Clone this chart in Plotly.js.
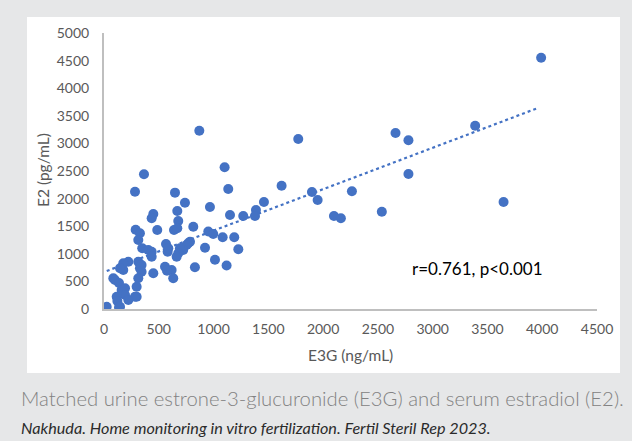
<!DOCTYPE html>
<html>
<head>
<meta charset="utf-8">
<script src="https://cdn.plot.ly/plotly-3.0.1.min.js"></script>
<style>html,body{margin:0;padding:0;background:#e6e7e8;}#chart{width:632px;height:441px;}</style>
</head>
<body>
<div id="chart"></div>
<script>
// E3G (ng/mL) and E2 (pg/mL)
const e3g = [3990,3388,2661,2779,1773,2779,1621,1898,1950,2263,1460,1387,1378,2099,2162,2536,3647,
  870,1101,1134,365,283,648,739,967,1150,1271,815,952,997,1083,1189,1226,922,1013,1119,830,
  450,435,669,678,289,328,486,639,669,313,
  785,769,754,723,693,678,663,349,404,435,435,566,581,587,
  450,557,617,632,575,
  313,328,343,343,313,298,298,283,
  176,222,176,146,85,100,137,161,192,192,222,116,122,24,137,146];
const e2 = [4553,3321,3188,3056,3080,2446,2234,2120,1975,2132,1938,1793,1685,1685,1643,1763,1938,
  3230,2567,2174,2440,2125,2108,1926,1848,1703,1685,1491,1405,1359,1299,1299,1082,1111,893,788,755,
  1721,1643,1775,1594,1437,1371,1431,1431,1462,1250,
  1219,1190,1159,1069,1100,1009,947,1100,1069,1038,947,1178,1038,1100,
  647,766,707,556,694,
  857,737,797,676,556,404,223,223,
  707,857,828,737,556,525,471,344,375,254,163,223,145,42,31,42];
// dotted linear trendline end points
const trendX = [25, 3954];
const trendY = [688, 3636];
const xTicks = [0,500,1000,1500,2000,2500,3000,3500,4000,4500];
const yTicks = [0,500,1000,1500,2000,2500,3000,3500,4000,4500,5000];
const statText = "r=0.761, p<0.001";
const xTitle = "E3G (ng/mL)";
const yTitle = "E2 (pg/mL)";
const caption = "Matched urine estrone-3-glucuronide (E3G) and serum estradiol (E2).";
const source = "Nakhuda. Home monitoring in vitro fertilization. Fertil Steril Rep 2023.";

const L = 104, R = 597, T = 33, B = 309;
const W = R - L, H = B - T;
const px = v => (v - L) / W;
const py = v => (B - v) / H;
const blue = '#4472c4';
const tickFont = {family: 'Lato, "Open Sans", sans-serif', size: 14, color: '#595959'};

const traces = [
  {x: trendX, y: trendY, mode: 'lines', type: 'scatter',
   line: {color: blue, width: 2.2, dash: 'dot'}, hoverinfo: 'skip'},
  {x: e3g, y: e2, mode: 'markers', type: 'scatter',
   marker: {color: blue, size: 10, line: {width: 0}}}
];

const layout = {
  width: 632, height: 441,
  paper_bgcolor: '#e6e7e8', plot_bgcolor: 'rgba(0,0,0,0)',
  showlegend: false,
  margin: {l: L, r: 632 - R, t: T, b: 441 - B, pad: 0},
  xaxis: {range: [0, 4500], tickvals: xTicks, ticktext: xTicks.map(String),
    showgrid: false, zeroline: false, showline: true, linecolor: '#bfbfbf', linewidth: 2,
    ticks: '', tickfont: tickFont, ticklabelstandoff: 6, fixedrange: true},
  yaxis: {range: [0, 5000], tickvals: yTicks, ticktext: yTicks.map(String),
    showgrid: false, zeroline: false, showline: true, linecolor: '#bfbfbf', linewidth: 2,
    ticks: '', tickfont: tickFont, ticklabelstandoff: 10, fixedrange: true},
  shapes: [
    {type: 'rect', xref: 'paper', yref: 'paper', layer: 'below',
     x0: px(27), x1: px(620), y0: py(373), y1: py(17),
     fillcolor: '#ffffff', line: {width: 0}}
  ],
  annotations: [
    {text: yTitle, xref: 'paper', yref: 'paper', x: px(43), y: py(170), textangle: -90,
     xanchor: 'center', yanchor: 'middle',
     showarrow: false, font: {family: 'Lato, sans-serif', size: 15.5, color: '#595959'}},
    {text: xTitle, xref: 'paper', yref: 'paper', x: px(350), y: py(355),
     xanchor: 'center', yanchor: 'middle',
     showarrow: false, font: {family: 'Lato, sans-serif', size: 15.5, color: '#595959'}},
    {text: statText, xref: 'paper', yref: 'paper', x: px(410), y: py(268),
     xanchor: 'left', yanchor: 'middle',
     showarrow: false, font: {family: 'Lato, sans-serif', size: 17, color: '#000000'}},
    {text: caption, xref: 'paper', yref: 'paper', x: px(19), y: py(398),
     xanchor: 'left', yanchor: 'middle',
     showarrow: false, font: {family: 'Lato, sans-serif', size: 20.3, color: '#828282', weight: 300}},
    {text: '<i>' + source + '</i>', xref: 'paper', yref: 'paper', x: px(19), y: py(427),
     xanchor: 'left', yanchor: 'middle',
     showarrow: false, font: {family: 'Lato, sans-serif', size: 16.2, color: '#2b2b2b'}}
  ]
};

Plotly.newPlot('chart', traces, layout, {displayModeBar: false, staticPlot: true});
</script>
</body>
</html>
